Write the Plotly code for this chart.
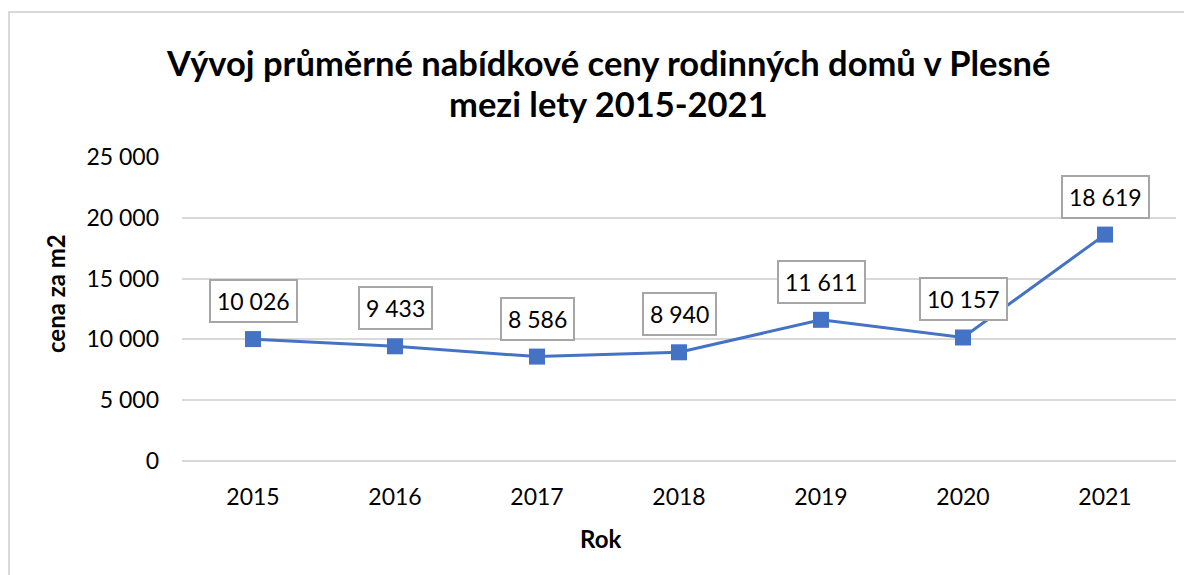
import plotly.graph_objects as go

years = ["2015", "2016", "2017", "2018", "2019", "2020", "2021"]
prices = [10026, 9433, 8586, 8940, 11611, 10157, 18619]
label_texts = ["10 026", "9 433", "8 586", "8 940", "11 611", "10 157", "18 619"]
y_ticks = [0, 5000, 10000, 15000, 20000, 25000]
y_tick_labels = ["0", "5 000", "10 000", "15 000", "20 000", "25 000"]
title_lines = ["Vývoj průměrné nabídkové ceny rodinných domů v Plesné", "mezi lety 2015-2021"]
x_title = "Rok"
y_title = "cena za m2"

FONT = "Lato, Calibri, Carlito, sans-serif"
BLUE = "#4472C4"

# page has an 8px body margin; figure coordinates are page coordinates minus 8
OFF = 8
W, H = 1184, 567
L, R, T, B = 182 - OFF, 16, 157 - OFF, 114
pw, ph = W - L - R, H - T - B


def px(xpage):
    return (xpage - OFF - L) / pw


def py(ypage):
    return (H - B - (ypage - OFF)) / ph


fig = go.Figure()
fig.add_trace(go.Scatter(
    x=years, y=prices, mode="lines+markers",
    line=dict(color=BLUE, width=3),
    marker=dict(symbol="square", size=16, color=BLUE, line=dict(width=0)),
    hoverinfo="skip", showlegend=False, cliponaxis=False,
))

for i, (v, t) in enumerate(zip(prices, label_texts)):
    fig.add_annotation(
        xref="x", yref="y", x=i, y=v, text=t, showarrow=False,
        yanchor="bottom", yshift=16,
        font=dict(family=FONT, size=23, color="#000000"),
        bgcolor="#ffffff", bordercolor="#a6a6a6", borderwidth=2, borderpad=6,
    )

for line, ypage in zip(title_lines, [62, 103]):
    fig.add_annotation(
        xref="paper", yref="paper", x=px(608), y=py(ypage),
        xanchor="center", yanchor="middle", text="<b>" + line + "</b>", showarrow=False,
        font=dict(family=FONT, size=34.5, color="#000000"),
    )

fig.add_annotation(
    xref="paper", yref="paper", x=px(600), y=py(538),
    xanchor="center", yanchor="middle", text="<b>" + x_title + "</b>", showarrow=False,
    font=dict(family=FONT, size=24, color="#000000"),
)
fig.add_annotation(
    xref="paper", yref="paper", x=px(55), y=py(294),
    xanchor="center", yanchor="middle", text="<b>" + y_title + "</b>", showarrow=False,
    textangle=-90, font=dict(family=FONT, size=24, color="#000000"),
)

fig.add_shape(type="rect", xref="paper", yref="paper",
              x0=px(9), x1=px(1200), y0=py(600), y1=py(12),
              line=dict(color="#d9d9d9", width=2), fillcolor="rgba(0,0,0,0)", layer="below")

fig.update_layout(
    width=W, height=H,
    margin=dict(l=L, r=R, t=T, b=B, autoexpand=False),
    paper_bgcolor="white", plot_bgcolor="white",
    xaxis=dict(
        type="category", showgrid=False, zeroline=False, showline=False,
        ticks="", ticklabelstandoff=20,
        tickfont=dict(family=FONT, size=23, color="#000000"),
        range=[-0.5, 6.5], automargin=False,
    ),
    yaxis=dict(
        range=[0, 25000], tickvals=y_ticks, ticktext=y_tick_labels,
        showgrid=True, gridcolor="#d9d9d9", gridwidth=1.5,
        zeroline=True, zerolinecolor="#d9d9d9", zerolinewidth=1.5,
        showline=False, ticks="", ticklen=0, automargin=False,
        ticklabelstandoff=22,
        tickfont=dict(family=FONT, size=23, color="#000000"),
    ),
)

fig.write_html("out.html")
